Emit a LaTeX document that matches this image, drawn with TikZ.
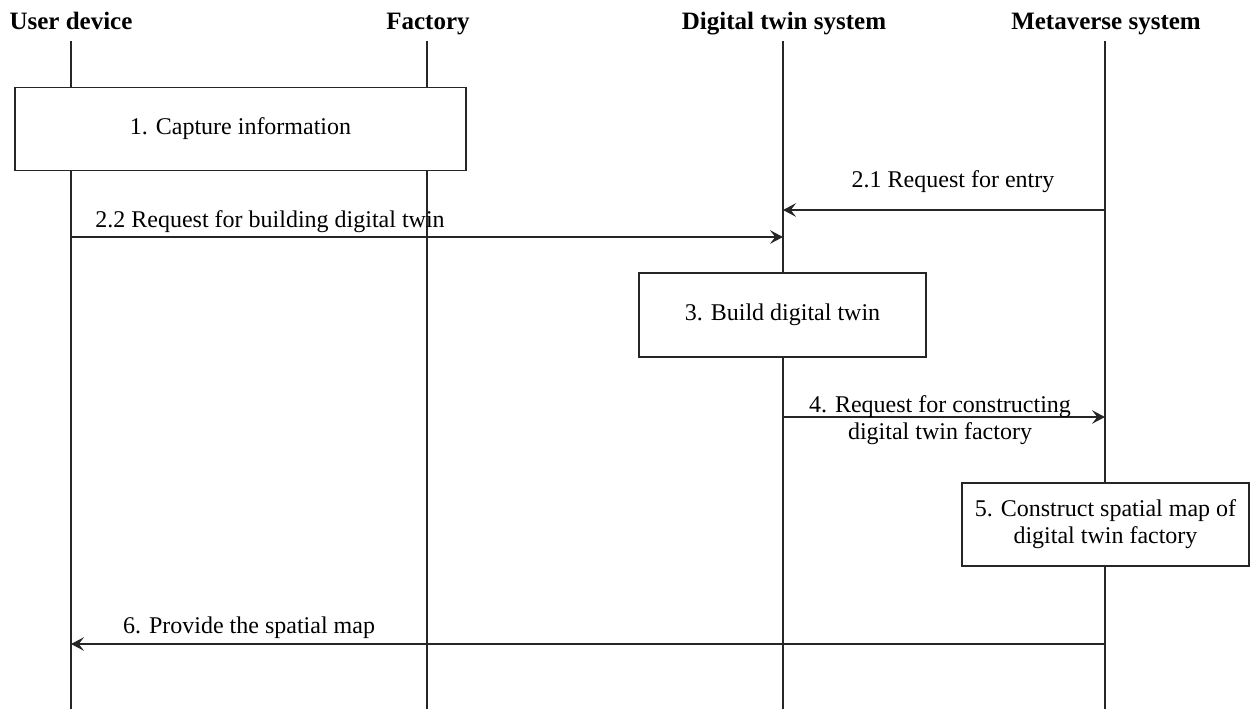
\documentclass[tikz,border=0pt]{standalone}
\usepackage{fontspec}
\setmainfont{Liberation Serif}
\usetikzlibrary{arrows.meta}
\begin{document}
\begin{tikzpicture}[x=0.5pt,y=-0.5pt,
  actor/.style={font=\fontsize{12.5}{14}\selectfont\bfseries, inner sep=0pt, anchor=base},
  life/.style={draw=black!85, line width=0.7pt},
  stepbox/.style={draw=black!85, line width=0.7pt, fill=white, align=center,
    font=\fontsize{12}{13.5}\selectfont, inner sep=0pt},
  msg/.style={draw=black!85, line width=0.7pt,
    -{Stealth[length=6.5pt, width=6.8pt, inset=2.6pt]}},
  msglabel/.style={font=\fontsize{12}{13.5}\selectfont, align=center, inner sep=0pt}]
  \useasboundingbox (0,0) rectangle (1250,709);

  % participants
  \node[actor] (ud) at (71,29) {User device};
  \node[actor] (fa) at (428,29) {Factory};
  \node[actor] (dt) at (784,29) {Digital twin system};
  \node[actor] (mv) at (1106,29) {Metaverse system};

  % lifeline end points
  \coordinate (udT) at (71,41);   \coordinate (udB) at (71,709);
  \coordinate (faT) at (427,41);  \coordinate (faB) at (427,709);
  \coordinate (dtT) at (783,41);  \coordinate (dtB) at (783,709);
  \coordinate (mvT) at (1105,41); \coordinate (mvB) at (1105,709);
  \draw[life] (udT) -- (udB);
  \draw[life] (faT) -- (faB);
  \draw[life] (dtT) -- (dtB);
  \draw[life] (mvT) -- (mvB);

  % activity boxes
  \node[stepbox, minimum width=225.5pt, minimum height=41.5pt] (s1) at (240.5,129)
    {\raisebox{-2pt}{1. Capture information}};
  \node[stepbox, minimum width=143.5pt, minimum height=42pt] (s3) at (782.5,315)
    {\raisebox{-2pt}{3. Build digital twin}};
  \node[stepbox, minimum width=143.5pt, minimum height=41.5pt] (s5) at (1105.5,524.5)
    {5. Construct spatial map of\\digital twin factory};

  % message end points
  \coordinate (m21a) at (1105,210); \coordinate (m21b) at (783,210);
  \coordinate (m22a) at (71,237);   \coordinate (m22b) at (783,237);
  \coordinate (m4a) at (783,417);   \coordinate (m4b) at (1105,417);
  \coordinate (m6a) at (1105,644);  \coordinate (m6b) at (71,644);

  % messages
  \draw[msg] (m21a) -- (m21b);
  \node[msglabel] (l21) at (953,182) {2.1 Request for entry};
  \draw[msg] (m22a) -- (m22b);
  \node[msglabel] (l22) at (270,222) {2.2 Request for building digital twin};
  \draw[msg] (m4a) -- (m4b);
  \node[msglabel] (l4) at (940,420) {4. Request for constructing\\digital twin factory};
  \draw[msg] (m6a) -- (m6b);
  \node[msglabel] (l6) at (249,628) {6. Provide the spatial map};
\end{tikzpicture}
\end{document}
